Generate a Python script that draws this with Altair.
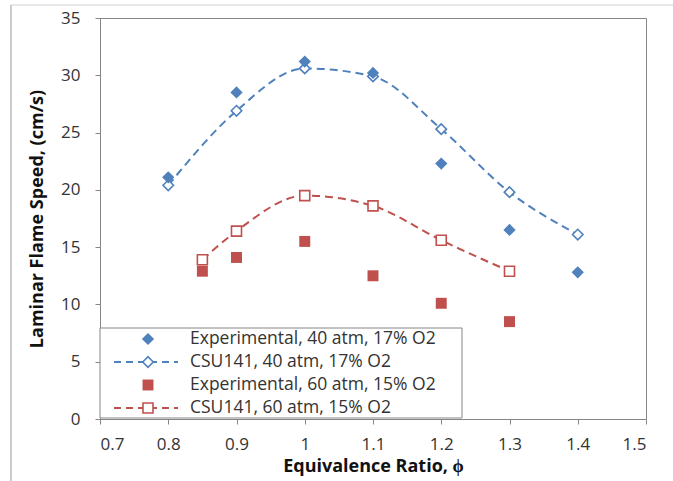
import altair as alt
import pandas as pd

# Measured laminar flame speeds and CSU141 model predictions
phi_40 = [0.8, 0.9, 1.0, 1.1, 1.2, 1.3, 1.4]
exp_40 = [21.1, 28.5, 31.2, 30.2, 22.3, 16.5, 12.8]
csu_40 = [20.4, 26.9, 30.6, 29.9, 25.3, 19.8, 16.1]

phi_60 = [0.85, 0.9, 1.0, 1.1, 1.2, 1.3]
exp_60 = [12.9, 14.1, 15.5, 12.5, 10.1, 8.5]
csu_60 = [13.9, 16.4, 19.5, 18.6, 15.6, 12.9]

series_names = [
    "Experimental, 40 atm, 17% O2",
    "CSU141, 40 atm, 17% O2",
    "Experimental, 60 atm, 15% O2",
    "CSU141, 60 atm, 15% O2",
]
x_ticks = [0.7, 0.8, 0.9, 1.0, 1.1, 1.2, 1.3, 1.4, 1.5]
y_ticks = [0, 5, 10, 15, 20, 25, 30, 35]

BLUE = "#4F81BD"
RED = "#C0504D"
GRID = "#868686"
FONT = "Open Sans"
TXT = "#333333"

W, H = 546, 401

df_e40 = pd.DataFrame({"phi": phi_40, "s": exp_40})
df_c40 = pd.DataFrame({"phi": phi_40, "s": csu_40})
df_e60 = pd.DataFrame({"phi": phi_60, "s": exp_60})
df_c60 = pd.DataFrame({"phi": phi_60, "s": csu_60})

xs = alt.Scale(domain=[0.7, 1.5], nice=False, zero=False)
ys = alt.Scale(domain=[0, 35], nice=False)

x_enc = alt.X(
    "phi:Q", scale=xs, title="Equivalence Ratio, ϕ",
    axis=alt.Axis(values=x_ticks, grid=False, domainColor=GRID, tickColor=GRID,
                  tickSize=5, labelFontSize=17, labelColor=TXT,
                  labelExpr="format(datum.value, '.1~f')", labelPadding=12,
                  titleFontSize=18, titleFontWeight="bold", titlePadding=5,
                  titleColor="#111", labelFont=FONT, titleFont=FONT),
)
y_enc = alt.Y(
    "s:Q", scale=ys, title="Laminar Flame Speed, (cm/s)",
    axis=alt.Axis(values=y_ticks, grid=False, domainColor=GRID, tickColor=GRID,
                  tickSize=5, labelFontSize=17, labelColor=TXT, labelPadding=15,
                  titleFontSize=18, titleFontWeight="bold", titlePadding=14,
                  titleColor="#111", labelFont=FONT, titleFont=FONT),
)

dash = [8, 5]

line40 = alt.Chart(df_c40).mark_line(
    color=BLUE, strokeWidth=2, strokeDash=dash, interpolate="monotone"
).encode(x=x_enc, y=y_enc)
pts_c40 = alt.Chart(df_c40).mark_point(
    shape="diamond", size=110, filled=True, fill="white", stroke=BLUE,
    strokeWidth=1.6, opacity=1
).encode(x="phi:Q", y="s:Q")
pts_e40 = alt.Chart(df_e40).mark_point(
    shape="diamond", size=150, filled=True, color=BLUE, opacity=1
).encode(x="phi:Q", y="s:Q")

line60 = alt.Chart(df_c60).mark_line(
    color=RED, strokeWidth=2, strokeDash=dash, interpolate="monotone"
).encode(x="phi:Q", y="s:Q")
pts_c60 = alt.Chart(df_c60).mark_square(
    size=100, filled=True, fill="white", stroke=RED, strokeWidth=1.6, opacity=1
).encode(x="phi:Q", y="s:Q")
pts_e60 = alt.Chart(df_e60).mark_square(
    size=120, color=RED, opacity=1
).encode(x="phi:Q", y="s:Q")

# Boxed legend in the lower left corner of the plot
leg_top, leg_bot, leg_right = 310, 400, 362
row_y = [321, 344, 367, 390]
sym_x = 48
box = alt.Chart(pd.DataFrame({"k": [0]})).mark_rect(
    fill="white", stroke=GRID, strokeWidth=1
).encode(x=alt.value(0), x2=alt.value(leg_right),
         y=alt.value(leg_top), y2=alt.value(leg_bot))

leg_layers = [box]
for i, (name, col) in enumerate(zip(series_names, [BLUE, BLUE, RED, RED])):
    yy = row_y[i]
    one = pd.DataFrame({"label": [name]})
    if i in (1, 3):
        leg_layers.append(
            alt.Chart(one).mark_rule(color=col, strokeWidth=2, strokeDash=[7, 5]).encode(
                x=alt.value(14), x2=alt.value(78), y=alt.value(yy))
        )
    if i == 0:
        sym = alt.Chart(one).mark_point(shape="diamond", size=150, filled=True,
                                        color=col, opacity=1)
    elif i == 1:
        sym = alt.Chart(one).mark_point(shape="diamond", size=110, filled=True,
                                        fill="white", stroke=col, strokeWidth=1.6, opacity=1)
    elif i == 2:
        sym = alt.Chart(one).mark_square(size=120, color=col, opacity=1)
    else:
        sym = alt.Chart(one).mark_square(size=100, filled=True, fill="white",
                                         stroke=col, strokeWidth=1.6, opacity=1)
    leg_layers.append(sym.encode(x=alt.value(sym_x), y=alt.value(yy)))
    leg_layers.append(
        alt.Chart(one).mark_text(align="left", baseline="middle", fontSize=17.5,
                                 font=FONT, color=TXT).encode(
            x=alt.value(90), y=alt.value(yy), text="label:N")
    )

# Outer chart-area frame (left and top edges)
frame = alt.Chart(pd.DataFrame({"k": [0]})).mark_rule(color="#BBBBBB", strokeWidth=1.5).encode(
    x=alt.value(-89), x2=alt.value(-89), y=alt.value(-13), y2=alt.value(470))
frame_top = alt.Chart(pd.DataFrame({"k": [0]})).mark_rule(color="#D0D0D0", strokeWidth=1).encode(
    x=alt.value(-89), x2=alt.value(580), y=alt.value(-13), y2=alt.value(-13))

chart = alt.layer(
    line40, pts_c40, pts_e40, line60, pts_c60, pts_e60, *leg_layers, frame, frame_top
).properties(
    width=W, height=H,
    autosize=alt.AutoSizeParams(type="none"),
    padding={"left": 100, "top": 18, "right": 27, "bottom": 62},
    background="white",
).configure_view(stroke=GRID, strokeWidth=1)

chart.save("out.html", embed_options={"renderer": "svg", "actions": False})
